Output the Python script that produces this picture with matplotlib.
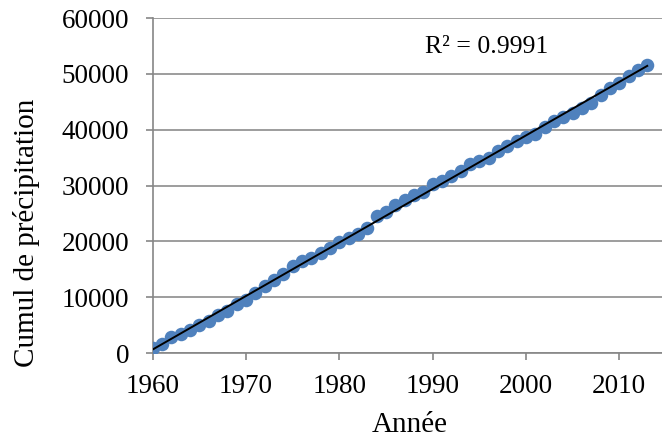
import numpy as np
import matplotlib
matplotlib.use("Agg")
import matplotlib.pyplot as plt

# cumulative precipitation per year
annees = np.arange(1960, 2014)
cumul = [900, 1670, 2800, 3460, 4060, 4950, 5730, 6750, 7580, 8780,
         9550, 10750, 12060, 13070, 14090, 15640, 16540, 17010, 17910, 18750,
         19820, 20600, 21310, 22390, 24480, 25250, 26570, 27430, 28390, 28810,
         30300, 30900, 31790, 32690, 33880, 34480, 34960, 36150, 37160, 38060,
         38780, 39250, 40570, 41520, 42240, 43070, 43910, 44750, 46300, 47490,
         48330, 49700, 50720, 51610]
r2_label = "R² = 0.9991"

plt.rcParams['font.family'] = ['Liberation Serif', 'DejaVu Serif']

fig = plt.figure(figsize=(6.62, 4.41), dpi=100)
ax = fig.add_axes([0.2307, 0.1995, 0.7752, 0.7596])

ax.scatter(annees, cumul, s=95, color='#4F81BD', zorder=3, linewidths=0)

# linear trend
a, b = np.polyfit(annees, cumul, 1)
xt = np.array([annees[0], annees[-1]])
ax.plot(xt, a * xt + b, color='black', lw=1.4, zorder=4)

ax.text(1995.8, 54840, r2_label, fontsize=18.5, ha='center', va='center')

ax.set_xlim(1960, 2015)
ax.set_ylim(0, 60000)
ax.set_xticks(range(1960, 2011, 10))
ax.set_yticks(range(0, 60001, 10000))
ax.grid(axis='y', color='#8c8c8c', lw=1.2)
ax.set_axisbelow(True)

for s in ['top', 'right']:
    ax.spines[s].set_visible(False)
for s in ['left', 'bottom']:
    ax.spines[s].set_color('#868686')
    ax.spines[s].set_linewidth(1.2)

ax.tick_params(axis='both', colors='#868686', labelcolor='black',
               labelsize=19.5, length=5, width=1.2)
ax.tick_params(axis='y', pad=12)
ax.tick_params(axis='x', pad=10)

# axis titles placed in pixel terms
fig.text(410 / 662, 1 - 425 / 441, "Année", fontsize=21,
         ha='center', va='center')
fig.text(27 / 662, 1 - 233 / 441, "Cumul de précipitation", fontsize=21,
         ha='center', va='center', rotation=90)

fig.savefig("out.png", dpi=100)
